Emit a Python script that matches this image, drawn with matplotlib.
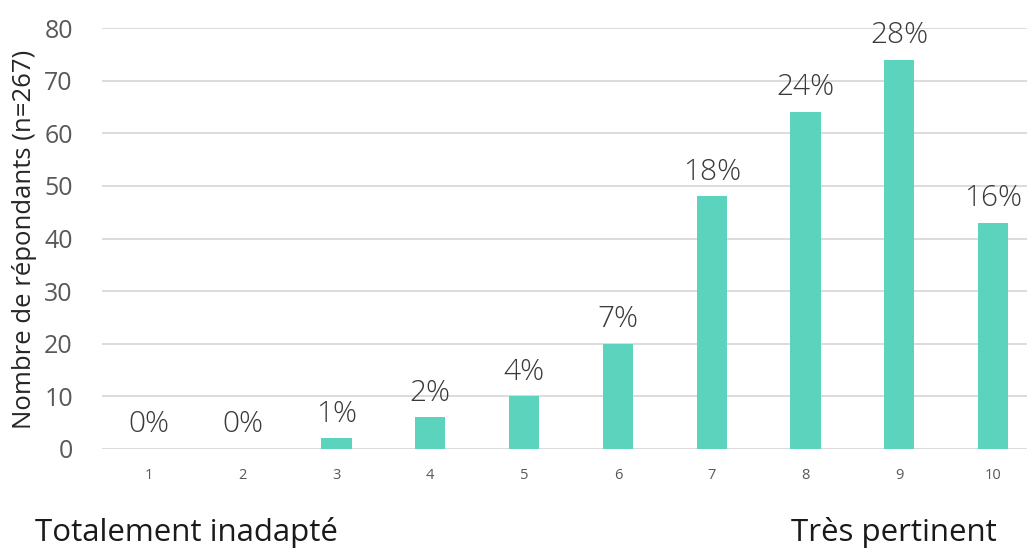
import matplotlib
matplotlib.use("Agg")
import matplotlib.pyplot as plt

categories = ["1", "2", "3", "4", "5", "6", "7", "8", "9", "10"]
counts = [0, 0, 2, 6, 10, 20, 48, 64, 74, 43]
pct_labels = ["0%", "0%", "1%", "2%", "4%", "7%", "18%", "24%", "28%", "16%"]
y_ticks = [0, 10, 20, 30, 40, 50, 60, 70, 80]

plt.rcParams['font.family'] = ['Open Sans', 'DejaVu Sans']

fig = plt.figure(figsize=(10.27, 5.5), dpi=100)
ax = fig.add_axes([102/1027, 1-449/550, 938/1027, (449-28)/550])

x = list(range(1, len(categories) + 1))
ax.bar(x, counts, width=0.32, color='#5BD3BD', zorder=3)
ax.set_xlim(0.5, 10.5)
ax.set_ylim(0, 80)
ax.set_yticks(y_ticks)
ax.set_xticks(x)
ax.set_xticklabels(categories, fontsize=10.5, color='#595959')
ax.tick_params(axis='y', labelsize=18, colors='#595959', length=0, pad=21)
ax.tick_params(axis='x', length=0, pad=14)
ax.grid(axis='y', color='#D9D9D9', linewidth=1.3, zorder=0)
for s in ax.spines.values():
    s.set_visible(False)

for xi, c, lab in zip(x, counts, pct_labels):
    ax.annotate(lab, (xi, c), xytext=(0, 7), textcoords='offset points',
                ha='center', va='bottom', fontsize=21.5, color='#3a3a3a',
                fontweight='light')

fig.text(25/1027, 1-239/550, "Nombre de répondants (n=267)", rotation=90,
         ha='center', va='center', fontsize=18.5, color='#262626')
fig.text(35/1027, 1-533/550, "Totalement inadapté", ha='left', va='center',
         fontsize=22.5, color='#1a1a1a')
fig.text(997/1027, 1-533/550, "Très pertinent", ha='right', va='center',
         fontsize=22.5, color='#1a1a1a')

fig.savefig("out.png", dpi=100)
